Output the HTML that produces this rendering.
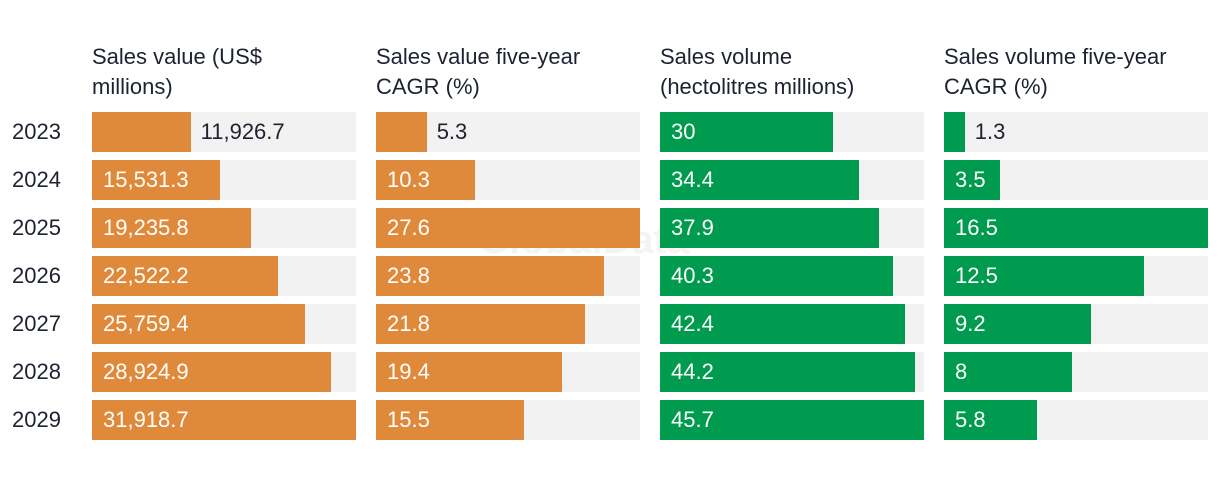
<!DOCTYPE html>
<html><head><meta charset="utf-8"><style>
body{margin:0;width:1220px;height:482px;background:#fff;overflow:hidden;font-family:"Liberation Sans",sans-serif;color:#1d2230}
#c{position:relative;width:1220px;height:482px}
.h{position:absolute;top:42px;font-size:22px;line-height:30px;color:#1d2230}
.y{position:absolute;left:12px;font-size:22px;line-height:40px}
.bg{position:absolute;height:40px;background:#f2f2f2}
.bar{position:absolute;left:0;top:0;height:40px}
.v{position:absolute;top:0;line-height:40px;font-size:22px;white-space:nowrap}
.wm{position:absolute;left:478px;top:218px;font-size:40px;font-weight:bold;color:#f4f4f4}
</style></head><body><div id="c">
<div class="wm">GlobalData</div>
</div>
<script>
const years=["2023","2024","2025","2026","2027","2028","2029"];
const titles=["Sales value (US$<br>millions)","Sales value five-year<br>CAGR (%)","Sales volume<br>(hectolitres millions)","Sales volume five-year<br>CAGR (%)"];
const salesValue=[11926.7,15531.3,19235.8,22522.2,25759.4,28924.9,31918.7];
const salesValueLabels=["11,926.7","15,531.3","19,235.8","22,522.2","25,759.4","28,924.9","31,918.7"];
const valueCagr=[5.3,10.3,27.6,23.8,21.8,19.4,15.5];
const salesVolume=[30,34.4,37.9,40.3,42.4,44.2,45.7];
const volumeCagr=[1.3,3.5,16.5,12.5,9.2,8,5.8];
const series=[salesValue,valueCagr,salesVolume,volumeCagr];
const labels=[salesValueLabels,valueCagr.map(String),salesVolume.map(String),volumeCagr.map(String)];
const colors=["#df8a3a","#df8a3a","#009b4e","#009b4e"];
const names=["sales-value","value-cagr","sales-volume","volume-cagr"];
const c=document.getElementById('c');
const W=264,X0=92,GAP=284,Y0=112,RS=48;
years.forEach((y,i)=>{const d=document.createElement('div');d.className='y';d.style.top=(Y0+i*RS)+'px';d.textContent=y;


c.appendChild(d);});
series.forEach((s,k)=>{
 const x=X0+k*GAP;const mx=Math.max(...s);
 const h=document.createElement('div');h.className='h';h.style.left=x+'px';h.innerHTML=titles[k];
 
 
 c.appendChild(h);
 s.forEach((v,i)=>{
  const bg=document.createElement('div');bg.className='bg';bg.style.left=x+'px';bg.style.top=(Y0+i*RS)+'px';bg.style.width=W+'px';
  
  
  const w=W*v/mx;
  const b=document.createElement('div');b.className='bar';b.style.width=w+'px';b.style.background=colors[k];
  
  
  bg.appendChild(b);
  const t=document.createElement('div');t.className='v';t.textContent=labels[k][i];
  const str=labels[k][i];
  const digits=(str.match(/[0-9]/g)||[]).length,punct=str.length-digits;
  const tw=digits*12.2+punct*6;
  if(tw+22<w){t.style.left='11px';t.style.color='#fff';}else{t.style.left=(w+10)+'px';t.style.color='#1d2230';}
  
  
  bg.appendChild(t);
  c.appendChild(bg);
 });
});
</script></body></html>
